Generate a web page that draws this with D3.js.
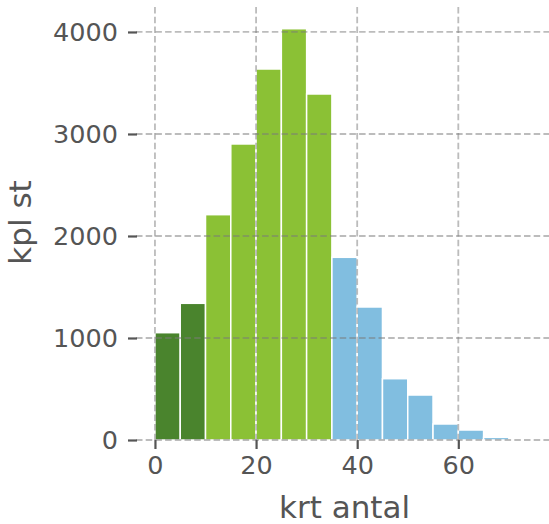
<!DOCTYPE html>
<html>
<head>
<meta charset="utf-8">
<script src="https://cdn.jsdelivr.net/npm/d3@7"></script>
<style>
  html, body { margin: 0; padding: 0; background: #fff; }
  svg { display: block; font-family: "DejaVu Sans", sans-serif; }
</style>
</head>
<body>
<svg id="chart" width="549" height="524"></svg>
<script>
// Data
const binStarts = [0, 5, 10, 15, 20, 25, 30, 35, 40, 45, 50, 55, 60, 65];
const binWidth = 5;
const counts = [1052, 1340, 2209, 2902, 3637, 4032, 3392, 1791, 1304, 601, 441, 157, 98, 26];
const groups = ["low", "low", "mid", "mid", "mid", "mid", "mid", "high", "high", "high", "high", "high", "high", "high"];
const groupColors = { low: "#4a842d", mid: "#8bc135", high: "#81bee0" };
const xTicks = [0, 20, 40, 60];
const yTicks = [0, 1000, 2000, 3000, 4000];
const xLabel = "krt antal";
const yLabel = "kpl st";

(function () {
const svg = d3.select("#chart");
const mLeft = 136.0, mRight = 553.1, mTop = 7, mBottom = 440;

const x = d3.scaleLinear().domain([-3.75, 78.75]).range([mLeft, mRight]);
const y = d3.scaleLinear().domain([0, 4235]).range([mBottom, mTop + 1]);

const textColor = "#555555";

// Bars
svg.append("g").selectAll("rect")
  .data(binStarts.map((s, i) => ({ s, c: counts[i], g: groups[i] })))
  .join("rect")
  .attr("x", d => x(d.s))
  .attr("width", d => x(d.s + binWidth) - x(d.s))
  .attr("y", d => y(d.c))
  .attr("height", d => y(0) - y(d.c))
  .attr("fill", d => groupColors[d.g])
  .attr("stroke", "#ffffff")
  .attr("stroke-width", 1.5);

// Grid (drawn over bars)
const grid = svg.append("g")
  .attr("stroke", "#7a7a7a")
  .attr("stroke-opacity", 0.5)
  .attr("stroke-width", 1.8)
  .attr("stroke-dasharray", "6.5,3.2");
grid.selectAll("line.v").data(xTicks).join("line")
  .attr("class", "v")
  .attr("x1", d => x(d)).attr("x2", d => x(d))
  .attr("y1", mTop).attr("y2", mBottom);
grid.selectAll("line.h").data(yTicks).join("line")
  .attr("class", "h")
  .attr("x1", mLeft).attr("x2", mRight)
  .attr("y1", d => y(d)).attr("y2", d => y(d));

// X axis
const xAxis = d3.axisBottom(x).tickValues(xTicks).tickSize(9).tickPadding(7).tickFormat(d3.format("d"));
const gx = svg.append("g").attr("transform", `translate(0,${mBottom})`).call(xAxis);
gx.select(".domain").remove();
gx.selectAll(".tick line").attr("stroke", textColor).attr("stroke-width", 2.2);
gx.selectAll(".tick text").attr("fill", textColor).attr("font-size", "25.5px")
  .attr("font-family", "DejaVu Sans, sans-serif");

// Y axis
const yAxis = d3.axisLeft(y).tickValues(yTicks).tickSize(9).tickPadding(10).tickFormat(d3.format("d"));
const gy = svg.append("g").attr("transform", `translate(${mLeft + 1},0)`).call(yAxis);
gy.select(".domain").remove();
gy.selectAll(".tick line").attr("stroke", textColor).attr("stroke-width", 2.2);
gy.selectAll(".tick text").attr("fill", textColor).attr("font-size", "25.5px")
  .attr("font-family", "DejaVu Sans, sans-serif");

// Axis labels
svg.append("text")
  .attr("x", x(37.5)).attr("y", 518)
  .attr("text-anchor", "middle")
  .attr("fill", textColor)
  .attr("font-size", "31px")
  .text(xLabel);

svg.append("text")
  .attr("transform", `translate(31,${222.5}) rotate(-90)`)
  .attr("text-anchor", "middle")
  .attr("fill", textColor)
  .attr("font-size", "31px")
  .text(yLabel);
})();
</script>
</body>
</html>
